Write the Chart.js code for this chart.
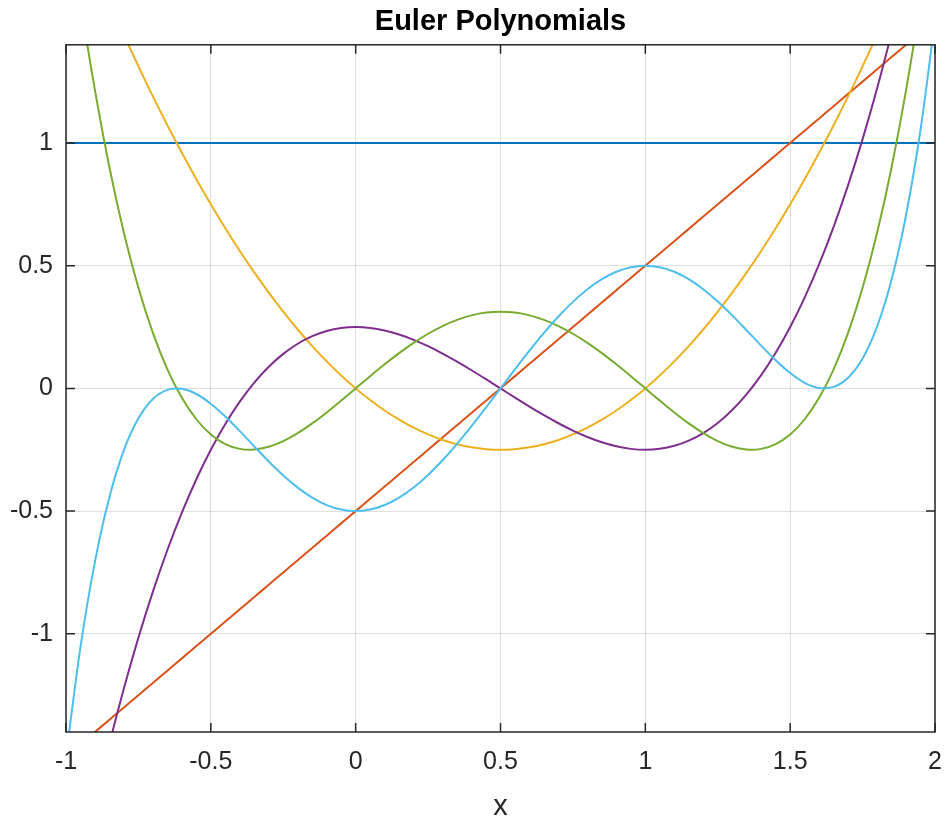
<!DOCTYPE html>
<html>
<head>
<meta charset="utf-8">
<script src="https://cdn.jsdelivr.net/npm/chart.js@4.4.0/dist/chart.umd.min.js"></script>
<style>
  html, body { margin: 0; padding: 0; background: #fff; }
  canvas { display: block; }
</style>
</head>
<body>
<canvas id="chart" width="945" height="816"></canvas>
<script>
// sampled x positions, every 0.05
const xs = [-1, -0.95, -0.9, -0.85, -0.8, -0.75, -0.7, -0.65, -0.6, -0.55,
            -0.5, -0.45, -0.4, -0.35, -0.3, -0.25, -0.2, -0.15, -0.1, -0.05,
            0, 0.05, 0.1, 0.15, 0.2, 0.25, 0.3, 0.35, 0.4, 0.45,
            0.5, 0.55, 0.6, 0.65, 0.7, 0.75, 0.8, 0.85, 0.9, 0.95,
            1, 1.05, 1.1, 1.15, 1.2, 1.25, 1.3, 1.35, 1.4, 1.45,
            1.5, 1.55, 1.6, 1.65, 1.7, 1.75, 1.8, 1.85, 1.9, 1.95, 2];

const e0 = xs.map(() => 1);
const e1 = [-1.5, -1.45, -1.4, -1.35, -1.3, -1.25, -1.2, -1.15, -1.1, -1.05,
            -1, -0.95, -0.9, -0.85, -0.8, -0.75, -0.7, -0.65, -0.6, -0.55,
            -0.5, -0.45, -0.4, -0.35, -0.3, -0.25, -0.2, -0.15, -0.1, -0.05,
            0, 0.05, 0.1, 0.15, 0.2, 0.25, 0.3, 0.35, 0.4, 0.45,
            0.5, 0.55, 0.6, 0.65, 0.7, 0.75, 0.8, 0.85, 0.9, 0.95,
            1, 1.05, 1.1, 1.15, 1.2, 1.25, 1.3, 1.35, 1.4, 1.45, 1.5];
const e2 = [2, 1.8525, 1.71, 1.5725, 1.44, 1.3125, 1.19, 1.0725, 0.96, 0.8525,
            0.75, 0.6525, 0.56, 0.4725, 0.39, 0.3125, 0.24, 0.1725, 0.11, 0.0525,
            0, -0.0475, -0.09, -0.1275, -0.16, -0.1875, -0.21, -0.2275, -0.24, -0.2475,
            -0.25, -0.2475, -0.24, -0.2275, -0.21, -0.1875, -0.16, -0.1275, -0.09, -0.0475,
            0, 0.0525, 0.11, 0.1725, 0.24, 0.3125, 0.39, 0.4725, 0.56, 0.6525,
            0.75, 0.8525, 0.96, 1.0725, 1.19, 1.3125, 1.44, 1.5725, 1.71, 1.8525, 2];
const e3 = [-2.25, -1.9611, -1.694, -1.4479, -1.222, -1.0156, -0.828, -0.6584, -0.506, -0.3701,
            -0.25, -0.1449, -0.054, 0.0234, 0.088, 0.1406, 0.182, 0.2129, 0.234, 0.2461,
            0.25, 0.2464, 0.236, 0.2196, 0.198, 0.1719, 0.142, 0.1091, 0.074, 0.0374,
            0, -0.0374, -0.074, -0.1091, -0.142, -0.1719, -0.198, -0.2196, -0.236, -0.2464,
            -0.25, -0.2461, -0.234, -0.2129, -0.182, -0.1406, -0.088, -0.0234, 0.054, 0.1449,
            0.25, 0.3701, 0.506, 0.6584, 0.828, 1.0156, 1.222, 1.4479, 1.694, 1.9611, 2.25];
const e4 = [2, 1.5793, 1.2141, 0.9003, 0.6336, 0.4102, 0.2261, 0.0778, -0.0384, -0.1257,
            -0.1875, -0.2267, -0.2464, -0.2492, -0.2379, -0.2148, -0.1824, -0.1427, -0.0979, -0.0497,
            0, 0.0498, 0.0981, 0.1438, 0.1856, 0.2227, 0.2541, 0.2793, 0.2976, 0.3088,
            0.3125, 0.3088, 0.2976, 0.2793, 0.2541, 0.2227, 0.1856, 0.1438, 0.0981, 0.0498,
            0, -0.0497, -0.0979, -0.1427, -0.1824, -0.2148, -0.2379, -0.2492, -0.2464, -0.2267,
            -0.1875, -0.1257, -0.0384, 0.0778, 0.2261, 0.4102, 0.6336, 0.9003, 1.2141, 1.5793, 2];
const e5 = [-1.5, -1.0538, -0.7057, -0.4425, -0.2517, -0.1221, -0.0433, -0.006, -0.0018, -0.0228,
            -0.0625, -0.1147, -0.1742, -0.2365, -0.2977, -0.3545, -0.4043, -0.4451, -0.4753, -0.4938,
            -0.5, -0.4938, -0.4752, -0.4449, -0.4037, -0.3525, -0.2928, -0.226, -0.1538, -0.0778,
            0, 0.0778, 0.1538, 0.226, 0.2928, 0.3525, 0.4037, 0.4449, 0.4752, 0.4938,
            0.5, 0.4938, 0.4753, 0.4451, 0.4043, 0.3545, 0.2977, 0.2365, 0.1742, 0.1147,
            0.0625, 0.0228, 0.0018, 0.006, 0.0433, 0.1221, 0.2517, 0.4425, 0.7057, 1.0538, 1.5];

const series = [e0, e1, e2, e3, e4, e5];
const colors = ["#0072BD", "#D95319", "#EDB120", "#7E2F8E", "#77AC30", "#4DBEEE"];

const xTicks = [-1, -0.5, 0, 0.5, 1, 1.5, 2];
const yTicks = [-1, -0.5, 0, 0.5, 1];

const axisColor = "#262626";
const gridColor = "rgba(38,38,38,0.15)";
const font = "'Liberation Sans', Arial, Helvetica, sans-serif";

// box around the axes with inward tick marks, like matlab
const frame = {
    id: "frame",
    afterDatasetsDraw(chart) {
        let { ctx, chartArea: a, scales: { x, y } } = chart;
        let len = 9;
        ctx.save();
        ctx.strokeStyle = axisColor;
        ctx.lineWidth = 1.5;
        ctx.strokeRect(a.left, a.top, a.right - a.left, a.bottom - a.top);
        ctx.beginPath();
        x.ticks.forEach(({ value }) => {
            let px = x.getPixelForValue(value);
            ctx.moveTo(px, a.bottom); ctx.lineTo(px, a.bottom - len);
            ctx.moveTo(px, a.top); ctx.lineTo(px, a.top + len);
        });
        y.ticks.forEach(({ value }) => {
            let py = y.getPixelForValue(value);
            ctx.moveTo(a.left, py); ctx.lineTo(a.left + len, py);
            ctx.moveTo(a.right, py); ctx.lineTo(a.right - len, py);
        });
        ctx.stroke();
        ctx.restore();
    },
};

new Chart(document.getElementById("chart"), {
    type: "line",
    data: {
        datasets: series.map((vals, i) => ({
            label: "E" + i,
            data: xs.map((x, j) => ({ x, y: vals[j] })),
            borderColor: colors[i],
            borderWidth: 2,
            fill: false,
            pointRadius: 0,
            tension: 0.33,
            order: series.length - i,
        })),
    },
    options: {
        responsive: false,
        animation: false,
        devicePixelRatio: 1,
        layout: { padding: 0 },
        plugins: {
            legend: { display: false },
            tooltip: { enabled: false },
            title: {
                display: true,
                text: "Euler Polynomials",
                fullSize: false,
                color: "#000",
                font: { family: font, size: 29, weight: "bold" },
                padding: { top: 5, bottom: 5 },
            },
        },
        scales: {
            x: {
                type: "linear",
                min: -1,
                max: 2,
                afterBuildTicks: (scale) => {
                    scale.ticks = xTicks.map((value) => ({ value }));
                },
                afterFit: (scale) => {
                    scale.height = 84;
                    scale.paddingLeft = 0;
                    scale.paddingRight = 10;
                },
                ticks: {
                    color: axisColor,
                    font: { family: font, size: 25, lineHeight: 1 },
                    padding: 18,
                    maxRotation: 0,
                    callback: (v) => String(v),
                },
                grid: { color: gridColor, lineWidth: 1, drawTicks: false },
                border: { display: false },
                title: {
                    display: true,
                    text: "x",
                    color: axisColor,
                    font: { family: font, size: 29, lineHeight: 0.5 },
                    padding: { top: 0, bottom: 2 },
                },
            },
            y: {
                type: "linear",
                min: -1.4,
                max: 1.4,
                afterBuildTicks: (scale) => {
                    scale.ticks = yTicks.map((value) => ({ value }));
                },
                afterFit: (scale) => {
                    scale.width = 66;
                },
                ticks: {
                    color: axisColor,
                    font: { family: font, size: 25 },
                    padding: 13,
                    callback: (v) => String(v),
                },
                grid: { color: gridColor, lineWidth: 1, drawTicks: false },
                border: { display: false },
            },
        },
    },
    plugins: [frame],
});
</script>
</body>
</html>
